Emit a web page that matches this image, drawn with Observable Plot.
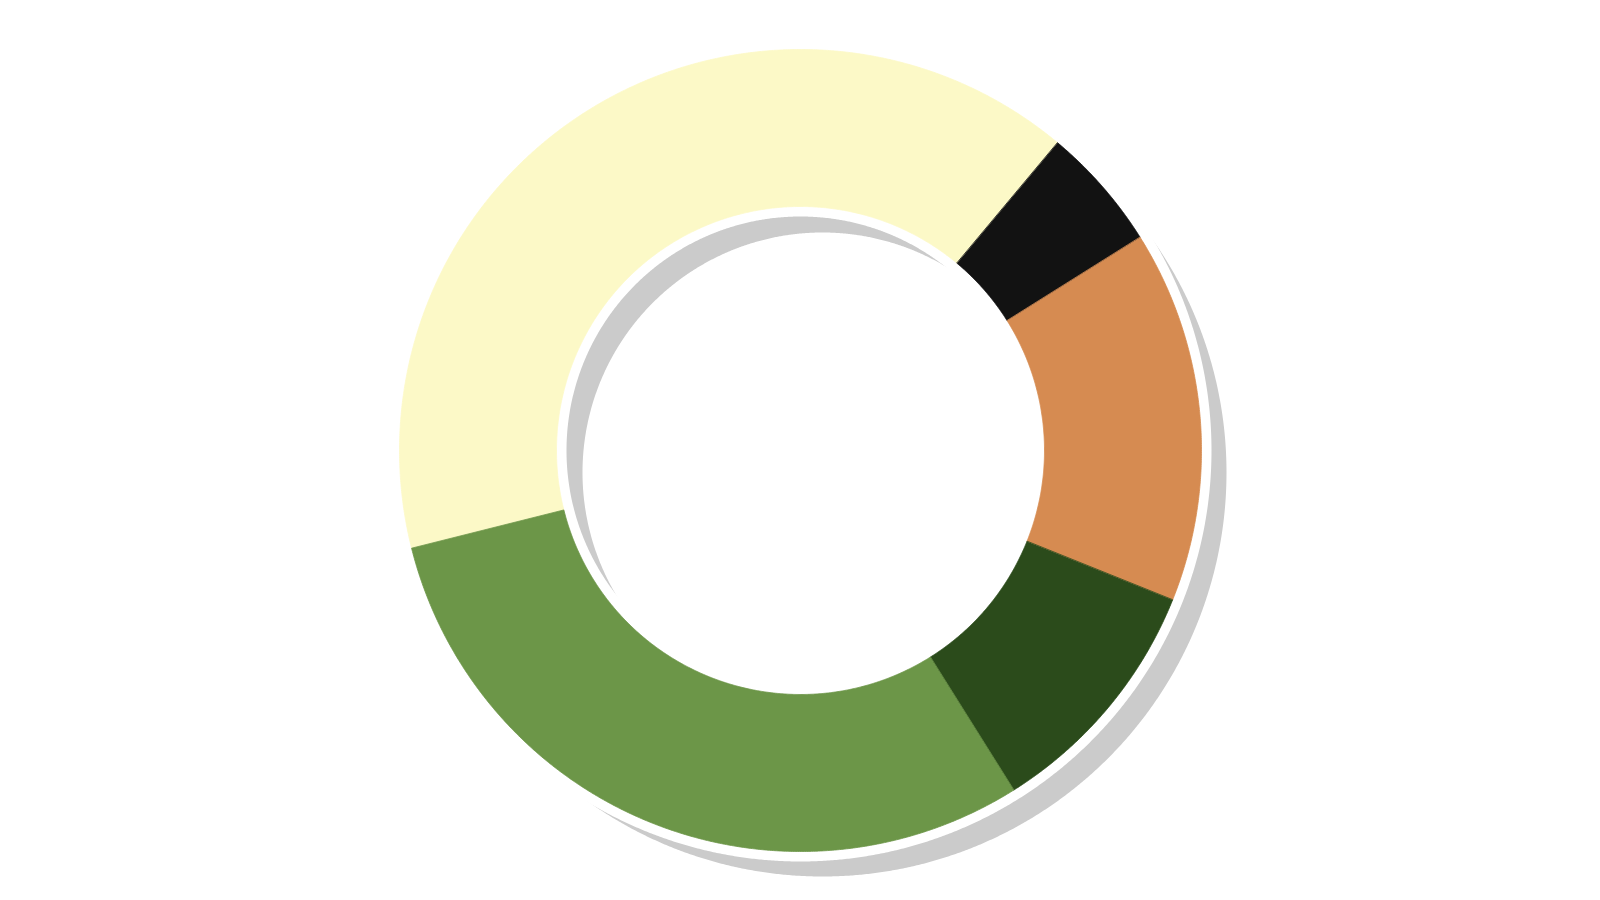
<!DOCTYPE html>
<html>
<head>
<meta charset="utf-8">
<script src="https://cdn.jsdelivr.net/npm/d3@7"></script>
<script src="https://cdn.jsdelivr.net/npm/@observablehq/plot@0.6"></script>
<style>
  html, body { margin: 0; padding: 0; background: #ffffff; }
  #chart svg { display: block; }
</style>
</head>
<body>
<div id="chart"></div>
<script>
// ---- data ----
const categories = ["Segment A", "Segment B", "Segment C", "Segment D", "Segment E"];
const values = [40, 5, 15, 10, 30];
const colors = ["#fcf9c7", "#121212", "#d68b51", "#2b4b1b", "#6c9648"];

// ---- layout ----
const W = 1600, H = 900;
const cx = 800, cy = 450;
const outerR = 401, innerR = 244, halo = 10;
const shadowDx = 22, shadowDy = 22, shadowOuterR = 404, shadowInnerR = 240;
const shadowColor = "#cbcbcb";
const startDeg = -104.1;

const toRad = d => d * Math.PI / 180;
const step = toRad(0.25);

function arcPoints(x0, y0, rad, a0, a1) {
  const n = Math.max(2, Math.ceil(Math.abs(a1 - a0) / step));
  const pts = [];
  for (let i = 0; i <= n; i++) {
    const a = a0 + (a1 - a0) * i / n;
    pts.push([x0 + rad * Math.sin(a), y0 - rad * Math.cos(a)]);
  }
  return pts;
}

function slicePolygon(x0, y0, r0, r1, a0, a1, props) {
  const ring = arcPoints(x0, y0, r1, a0, a1).concat(arcPoints(x0, y0, r0, a1, a0));
  ring.push(ring[0]);
  return {type: "Feature", properties: props, geometry: {type: "Polygon", coordinates: [ring]}};
}

function ringPolygon(x0, y0, r0, r1, props) {
  const outer = arcPoints(x0, y0, r1, 0, 2 * Math.PI);
  const inner = arcPoints(x0, y0, r0, 2 * Math.PI, 0);
  return {type: "Feature", properties: props, geometry: {type: "Polygon", coordinates: [outer, inner]}};
}

const table = categories.map((c, i) => ({category: c, value: values[i], color: colors[i]}));
const pie = d3.pie().sort(null).value(d => d.value)
  .startAngle(toRad(startDeg)).endAngle(toRad(startDeg) + 2 * Math.PI);
const arcs = pie(table);

const slices = arcs.map(a => slicePolygon(cx, cy, innerR, outerR, a.startAngle, a.endAngle,
  {color: a.data.color, category: a.data.category, value: a.data.value}));
const shadow = [ringPolygon(cx + shadowDx, cy + shadowDy, shadowInnerR, shadowOuterR, {color: shadowColor})];
const haloRing = [ringPolygon(cx, cy, innerR - halo, outerR + halo, {color: "#ffffff"})];

const chart = Plot.plot({
  width: W,
  height: H,
  margin: 0,
  projection: "identity",
  color: {type: "identity"},
  marks: [
    Plot.geo(shadow, {fill: d => d.properties.color}),
    Plot.geo(haloRing, {fill: d => d.properties.color}),
    Plot.geo(slices, {
      fill: d => d.properties.color,
      stroke: d => d.properties.color,
      strokeWidth: 0.8,
      title: d => `${d.properties.category}: ${d.properties.value}%`
    })
  ]
});
document.getElementById("chart").appendChild(chart);
</script>
</body>
</html>
